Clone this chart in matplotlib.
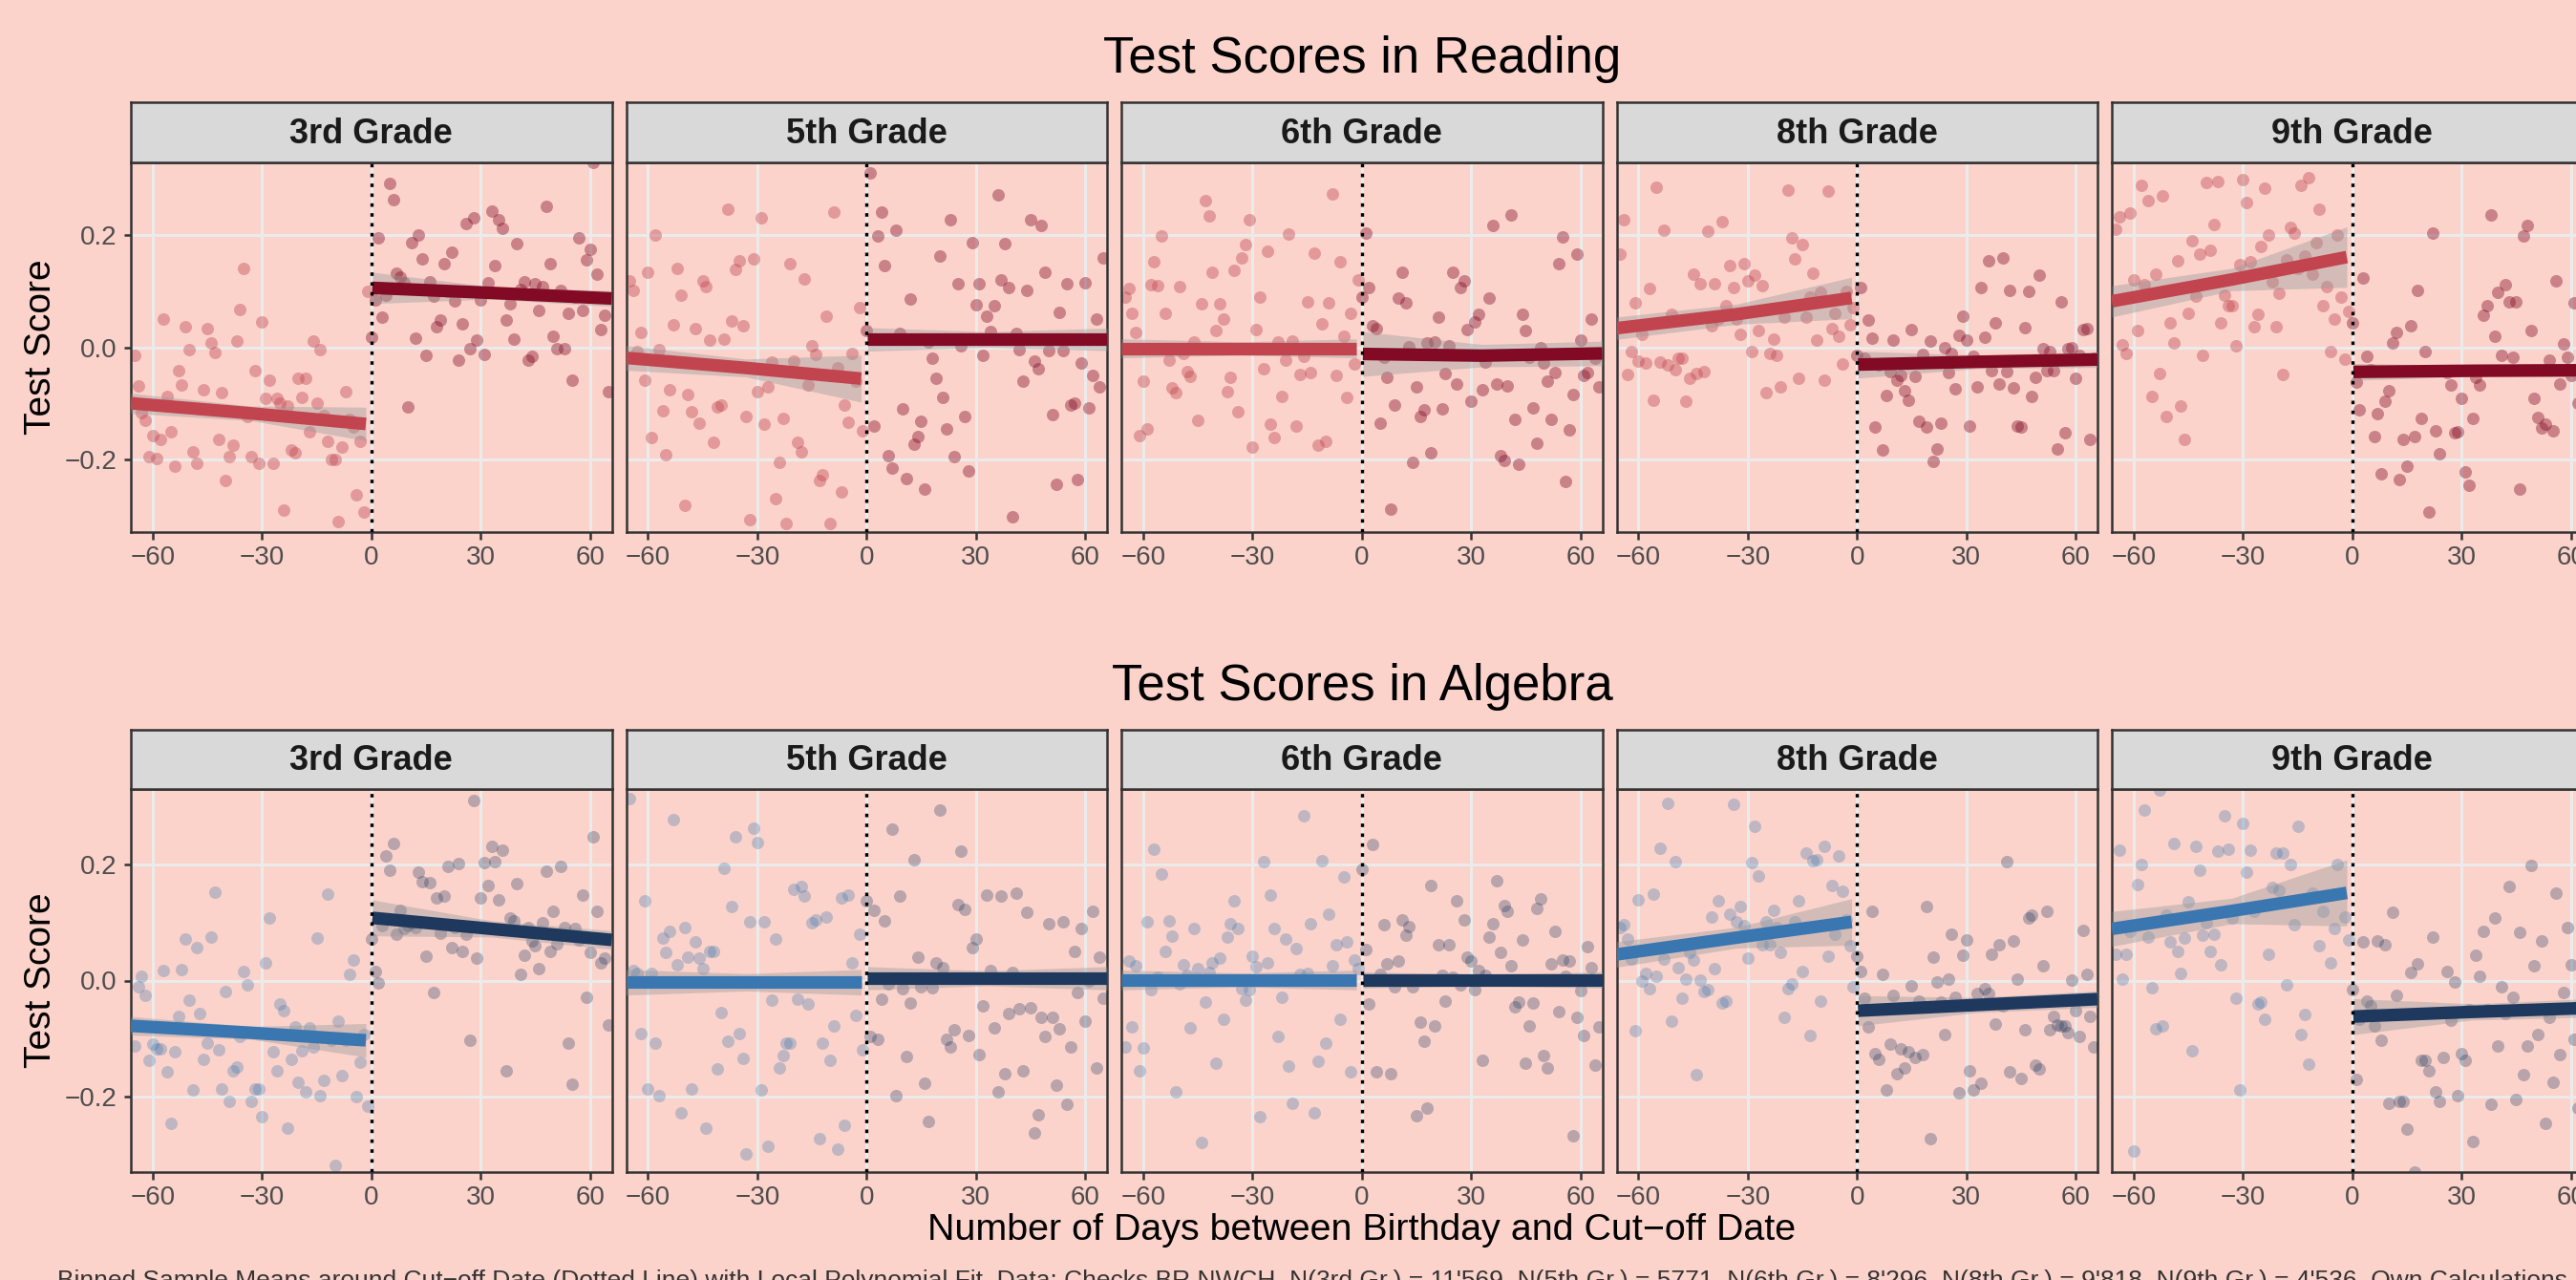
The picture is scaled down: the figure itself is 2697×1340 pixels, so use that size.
import numpy as np
import matplotlib.pyplot as plt

plt.rcParams['font.family'] = ['Liberation Sans', 'DejaVu Sans']

# ---- data: binned means per day (left of cut-off, right of cut-off) ----
grades = ["3rd Grade", "5th Grade", "6th Grade", "8th Grade", "9th Grade"]
subjects = ["Test Scores in Reading", "Test Scores in Algebra"]

read_g3_left = [-0.014, -0.069, -0.117, -0.131, -0.195, -0.157, -0.198, -0.165, 0.051, -0.088, -0.151, -0.212, -0.042,
                -0.067, 0.037, -0.005, -0.186, -0.208, -0.11, -0.076, 0.034, 0.007, -0.01, -0.164, -0.081, -0.238,
                -0.195, -0.175, 0.011, 0.068, 0.141, -0.124, -0.195, -0.041, -0.208, 0.045, -0.092, -0.058, -0.208,
                -0.091, -0.1, -0.29, -0.105, -0.184, -0.188, -0.055, -0.089, -0.055, -0.151, 0.011, -0.1, -0.004,
                -0.122, -0.168, -0.2, -0.2, -0.312, -0.178, -0.079, -0.128, -0.143, -0.263, -0.168, -0.294, 0.099]
read_g3_right = [0.018, 0.084, 0.196, 0.053, 0.093, 0.293, 0.264, 0.132, 0.126, 0.115, -0.106, 0.187, 0.017, 0.2,
                 0.158, -0.014, 0.117, 0.091, 0.036, 0.049, 0.149, 0.1, 0.17, 0.083, -0.023, 0.041, 0.221, -0.003,
                 0.231, 0.013, 0.084, -0.012, 0.115, 0.243, 0.145, 0.227, 0.212, 0.048, 0.078, 0.015, 0.185, 0.104,
                 0.116, -0.023, -0.016, 0.113, 0.065, 0.109, 0.251, 0.15, 0.02, -0.003, 0.102, -0.003, 0.06, -0.058,
                 0.09, 0.195, 0.066, 0.156, 0.174, 0.33, 0.131, 0.032, 0.057, -0.079]
read_g5_left = [0.118, 0.101, -0.008, 0.027, -0.058, 0.134, -0.162, 0.2, -0.004, -0.114, -0.192, -0.076, 0.04, 0.141,
                0.093, -0.282, -0.084, -0.115, 0.034, -0.136, 0.118, 0.108, 0.012, -0.169, -0.106, -0.103, 0.015,
                0.246, 0.047, 0.139, 0.155, 0.038, -0.124, -0.307, 0.157, -0.08, 0.231, -0.137, -0.071, -0.027, -0.27,
                -0.206, -0.127, -0.314, 0.149, -0.025, -0.169, -0.186, 0.122, -0.067, 0.002, -0.013, -0.238, -0.228,
                0.056, -0.315, 0.241, -0.037, -0.259, -0.104, -0.134, -0.011, -0.06, 0.07, -0.15]
read_g5_right = [0.03, 0.312, -0.14, 0.198, 0.242, 0.146, -0.193, -0.215, 0.209, 0.024, -0.11, -0.235, 0.086, -0.173,
                 -0.159, -0.133, -0.253, 0.01, -0.019, -0.056, 0.163, -0.09, -0.145, 0.227, -0.195, 0.113, 0.002,
                 -0.123, -0.221, 0.186, 0.076, 0.113, -0.014, 0.055, 0.028, 0.075, 0.272, 0.12, 0.185, 0.106, -0.302,
                 0.024, -0.004, -0.061, 0.102, 0.227, -0.024, -0.038, 0.218, 0.134, -0.006, -0.121, -0.244, 0.063,
                 -0.006, 0.113, -0.103, -0.099, -0.237, -0.028, 0.115, -0.108, -0.051, 0.05, -0.07, 0.16]
read_g6_left = [0.089, 0.105, 0.061, 0.026, -0.157, -0.06, -0.145, 0.112, 0.153, 0.11, 0.199, 0.06, -0.023, -0.073,
                -0.081, 0.108, -0.011, -0.044, -0.052, 0.009, -0.131, 0.077, 0.261, 0.235, 0.134, 0.03, 0.077, 0.05,
                -0.08, -0.054, 0.138, -0.115, 0.159, 0.183, 0.228, -0.179, 0.031, 0.089, -0.038, 0.171, -0.138,
                -0.162, 0.01, -0.088, -0.023, 0.202, 0.011, -0.14, -0.049, -0.016, 0.081, -0.045, 0.168, -0.175,
                0.041, -0.168, 0.08, 0.273, -0.05, 0.153, 0.02, -0.09, 0.06, -0.03, 0.12]
read_g6_right = [0.089, 0.204, 0.106, 0.038, 0.034, -0.136, -0.018, -0.054, -0.289, -0.103, 0.088, 0.134, 0.08, 0.001,
                 -0.206, -0.071, -0.123, -0.112, 0.008, -0.189, 0.01, 0.053, -0.11, -0.047, 0.002, 0.134, -0.066,
                 0.107, 0.118, 0.031, -0.096, 0.045, 0.058, -0.076, -0.027, 0.088, 0.218, -0.066, -0.193, -0.202,
                 -0.069, 0.237, -0.129, -0.209, 0.058, 0.03, -0.018, -0.108, -0.172, -0.001, -0.028, -0.06, -0.129,
                 -0.046, 0.149, 0.197, -0.24, -0.148, -0.085, 0.167, 0.013, -0.05, -0.046, 0.05, -0.02, -0.07]
read_g8_left = [0.167, 0.227, -0.049, -0.007, 0.08, -0.024, 0.023, -0.028, 0.105, -0.094, 0.286, -0.027, 0.209,
                -0.032, 0.058, -0.04, -0.019, -0.019, -0.097, -0.056, 0.131, -0.047, 0.113, -0.043, 0.207, 0.038,
                0.114, 0.05, 0.225, 0.074, 0.146, 0.107, 0.05, 0.023, 0.15, 0.119, -0.008, 0.129, 0.03, 0.11, -0.081,
                -0.011, 0.015, -0.015, -0.07, 0.054, 0.281, 0.195, 0.158, -0.056, 0.184, 0.054, 0.089, 0.132, 0.013,
                0.098, -0.058, 0.279, 0.033, 0.06, 0.02, -0.03, 0.1, 0.04, 0.07]
read_g8_right = [-0.014, 0.107, -0.019, 0.049, 0.016, -0.143, -0.032, -0.184, -0.086, -0.044, 0.012, -0.058, -0.05,
                 -0.078, -0.095, 0.032, -0.052, -0.133, -0.012, -0.142, 0.011, -0.203, -0.181, -0.135, -0.001, -0.045,
                 -0.011, -0.074, 0.021, 0.056, 0.013, -0.141, -0.017, -0.07, 0.107, 0.018, 0.154, -0.041, 0.044,
                 -0.066, 0.16, -0.044, 0.102, -0.072, -0.14, -0.142, 0.035, 0.099, -0.087, -0.053, 0.129, -0.003,
                 -0.041, -0.007, -0.042, -0.181, 0.081, -0.152, -0.002, 0.0, -0.056, -0.015, 0.031, 0.033, -0.165,
                 -0.02]
read_g9_left = [0.211, 0.233, 0.005, -0.011, 0.239, 0.121, 0.029, 0.289, 0.111, 0.261, -0.087, 0.131, -0.047, 0.27,
                -0.123, 0.044, 0.008, 0.155, -0.105, -0.165, 0.06, 0.191, 0.092, 0.166, -0.015, 0.294, 0.173, 0.22,
                0.296, 0.043, 0.093, 0.075, 0.075, 0.003, 0.147, 0.299, 0.258, 0.153, 0.037, 0.058, 0.18, 0.284,
                0.201, 0.117, 0.036, 0.097, -0.049, 0.156, 0.214, 0.203, 0.14, 0.289, 0.163, 0.303, 0.13, 0.187,
                0.246, 0.074, 0.109, -0.007, 0.05, 0.2, 0.09, -0.021, 0.064]
read_g9_right = [0.043, -0.062, -0.111, 0.123, -0.017, -0.04, -0.16, -0.119, -0.226, -0.096, -0.078, 0.007, 0.027,
                 -0.237, -0.165, -0.213, 0.038, -0.16, 0.102, -0.127, -0.007, -0.294, 0.204, -0.149, -0.191, -0.042,
                 -0.045, -0.068, -0.152, -0.151, -0.092, -0.222, -0.246, -0.127, -0.054, -0.067, 0.057, 0.075, 0.237,
                 0.02, 0.098, -0.015, 0.111, 0.081, -0.018, 0.081, -0.253, 0.198, 0.218, 0.03, -0.092, -0.126, -0.144,
                 -0.137, -0.023, -0.149, 0.119, -0.066, 0.006, -0.018, -0.05, 0.08, -0.1, 0.02, -0.06, 0.1]

alg_g3_left = [-0.112, -0.011, 0.008, -0.026, -0.137, -0.11, -0.118, -0.118, 0.017, -0.158, -0.246, -0.122, -0.061,
               0.019, 0.071, -0.033, -0.188, 0.056, -0.057, -0.136, -0.107, 0.075, 0.153, -0.12, -0.186, -0.019,
               -0.209, -0.155, -0.149, -0.097, 0.016, -0.007, -0.208, -0.186, -0.186, -0.234, 0.03, 0.107, -0.122,
               -0.155, -0.041, -0.052, -0.254, -0.136, -0.08, -0.175, -0.121, -0.192, -0.082, -0.115, 0.073, -0.199,
               -0.172, 0.149, -0.103, -0.319, -0.07, -0.163, -0.103, 0.011, 0.035, -0.2, -0.141, -0.093, -0.217]
alg_g3_right = [0.071, 0.016, -0.004, 0.095, 0.215, 0.19, 0.237, 0.08, 0.121, 0.09, 0.094, 0.099, 0.091, 0.187, 0.17,
                0.042, 0.168, -0.021, 0.143, 0.082, 0.146, 0.197, 0.057, 0.091, 0.202, 0.05, 0.08, -0.103, 0.31, 0.039,
                0.142, 0.203, 0.163, 0.231, 0.205, 0.139, 0.224, -0.156, 0.108, 0.103, 0.167, 0.01, 0.043, 0.091,
                0.068, 0.06, 0.02, 0.099, 0.189, 0.05, 0.12, 0.063, 0.196, 0.091, -0.107, -0.179, 0.09, 0.07, 0.147,
                -0.029, 0.049, 0.247, 0.12, 0.03, 0.038, -0.077]
alg_g5_left = [0.314, 0.017, 0.012, -0.091, 0.137, -0.187, 0.012, -0.108, -0.198, 0.073, 0.048, 0.084, 0.278, 0.027,
               -0.228, 0.091, 0.04, -0.186, 0.066, 0.039, 0.02, -0.254, 0.05, 0.05, -0.153, -0.055, 0.193, -0.104,
               0.127, 0.247, -0.092, -0.134, -0.299, 0.102, 0.262, 0.238, -0.189, 0.102, -0.286, -0.033, 0.072,
               -0.151, -0.13, -0.108, -0.108, 0.157, -0.032, 0.162, 0.146, -0.04, 0.099, 0.104, -0.273, -0.108, 0.109,
               -0.138, -0.078, -0.29, 0.143, -0.249, 0.148, 0.03, -0.06, 0.08, -0.12]
alg_g5_right = [0.138, -0.097, 0.121, -0.101, -0.032, 0.103, -0.005, 0.261, -0.199, 0.145, -0.014, -0.131, -0.038,
                0.209, 0.04, -0.011, -0.177, -0.242, -0.013, 0.031, 0.293, 0.023, -0.101, -0.115, -0.085, 0.131,
                0.223, 0.122, -0.095, 0.057, 0.072, -0.128, -0.043, 0.147, 0.017, -0.081, -0.191, 0.146, -0.161,
                -0.056, 0.014, 0.151, -0.049, -0.155, 0.117, -0.047, -0.262, -0.232, -0.064, -0.096, 0.098, -0.064,
                -0.181, -0.083, 0.101, -0.213, -0.114, 0.05, -0.02, 0.09, -0.07, 0.0, 0.12, -0.15, 0.04, -0.03]
alg_g6_left = [-0.114, 0.033, -0.08, 0.025, -0.156, -0.116, 0.102, -0.015, 0.226, 0.005, 0.184, 0.051, 0.103, 0.077,
               -0.192, -0.006, 0.027, 0.009, -0.081, 0.09, 0.021, -0.279, -0.037, 0.014, 0.03, -0.142, 0.038, -0.067,
               0.075, 0.098, 0.138, 0.09, -0.014, -0.033, -0.015, 0.042, 0.024, -0.235, 0.205, 0.031, 0.147, 0.089,
               -0.096, -0.028, 0.072, -0.148, -0.211, 0.055, 0.01, 0.284, 0.012, 0.098, -0.228, -0.139, 0.206, -0.107,
               0.114, 0.026, 0.061, -0.066, 0.178, 0.067, -0.157, 0.036, 0.02]
alg_g6_right = [0.191, 0.054, -0.041, 0.234, -0.157, 0.01, 0.097, 0.028, -0.161, -0.01, 0.033, 0.104, 0.079, 0.093,
                -0.01, -0.233, -0.071, -0.105, -0.219, 0.164, -0.079, 0.061, 0.009, -0.036, 0.061, 0.005, 0.137,
                -0.007, 0.104, 0.04, 0.034, -0.015, 0.017, -0.138, 0.009, 0.075, 0.098, 0.172, 0.048, 0.13, 0.12,
                0.025, -0.046, -0.037, 0.07, -0.143, -0.079, -0.039, 0.125, 0.14, -0.13, -0.15, 0.028, 0.085, -0.054,
                0.036, 0.007, 0.034, -0.268, -0.064, -0.017, -0.095, 0.058, 0.023, -0.145, -0.08]
alg_g8_left = [0.091, 0.097, 0.071, 0.037, -0.086, 0.139, 0.0, 0.013, -0.014, 0.149, 0.008, 0.228, 0.037, 0.306,
               -0.07, 0.205, 0.023, -0.03, 0.002, 0.048, 0.036, -0.162, 0.001, -0.019, -0.015, 0.109, 0.02, 0.137,
               -0.038, -0.036, 0.114, 0.304, 0.101, 0.127, 0.095, 0.038, 0.203, 0.266, 0.181, 0.061, 0.101, 0.062,
               0.121, 0.091, 0.049, -0.064, -0.014, -0.005, 0.102, 0.138, 0.016, 0.219, -0.095, 0.207, 0.209, -0.036,
               0.232, 0.042, 0.164, 0.08, 0.214, 0.154, 0.104, 0.06, -0.01]
alg_g8_right = [0.042, 0.016, -0.031, -0.08, 0.119, -0.126, -0.136, 0.011, -0.189, -0.11, -0.026, -0.16, -0.118,
                -0.151, -0.123, -0.009, -0.132, -0.036, -0.128, 0.127, -0.272, 0.041, -0.003, -0.037, -0.093, 0.003,
                0.08, -0.028, -0.194, 0.044, 0.07, -0.156, -0.189, -0.022, -0.177, -0.014, -0.022, 0.046, -0.075,
                0.061, -0.043, 0.205, -0.157, 0.069, 0.003, -0.169, -0.085, 0.108, 0.113, -0.145, -0.153, 0.026, 0.119,
                -0.085, -0.061, -0.077, -0.078, -0.079, -0.089, 0.001, -0.052, -0.097, 0.086, 0.011, -0.061, -0.114]
alg_g9_left = [0.045, 0.225, 0.002, 0.045, 0.084, -0.293, 0.166, 0.2, 0.293, 0.075, -0.013, -0.083, 0.328, -0.079,
               0.113, 0.066, 0.237, 0.051, 0.013, 0.074, 0.135, -0.121, 0.231, 0.19, 0.079, 0.1, 0.051, 0.08, 0.223,
               0.027, 0.284, 0.227, 0.108, -0.031, -0.189, 0.271, 0.186, 0.224, 0.12, -0.04, -0.037, -0.066, 0.045,
               0.161, 0.22, 0.156, 0.22, -0.007, 0.2, 0.096, 0.266, -0.093, -0.059, -0.144, 0.15, 0.34, 0.06, 0.12,
               0.36, 0.03, 0.09, 0.2, 0.35, 0.11, 0.07]
alg_g9_right = [-0.016, -0.171, -0.067, 0.067, -0.036, -0.044, -0.079, 0.068, -0.103, 0.062, -0.211, 0.118, -0.026,
                -0.208, -0.209, -0.256, 0.014, -0.33, 0.029, -0.138, -0.137, -0.155, 0.075, -0.191, -0.209, -0.133,
                0.015, -0.069, -0.003, -0.198, -0.126, -0.137, -0.051, -0.277, 0.044, 0.008, 0.084, -0.05, -0.213,
                0.108, -0.113, -0.011, -0.056, 0.162, -0.028, -0.205, 0.083, -0.162, -0.113, 0.198, 0.025, -0.093,
                0.068, -0.246, -0.063, -0.176, 0.151, -0.128, -0.02, 0.092, 0.027, -0.102, -0.22, 0.03, -0.09, 0.06]

# local polynomial fit: value and CI half-width at start / middle / end of each side
fit_x_left = [-66, -33, -1.5]
fit_x_right = [0.3, 33, 66]
read_fit_left = [[-0.100, -0.118, -0.137], [-0.019, -0.037, -0.056], [-0.002, -0.002, -0.002],
                 [0.034, 0.059, 0.088], [0.082, 0.121, 0.161]]
read_hw_left = [[0.018, 0.013, 0.030], [0.022, 0.016, 0.042], [0.017, 0.012, 0.017],
                [0.020, 0.018, 0.037], [0.028, 0.020, 0.054]]
read_fit_right = [[0.106, 0.097, 0.087], [0.014, 0.014, 0.014], [-0.012, -0.015, -0.011],
                  [-0.031, -0.026, -0.022], [-0.044, -0.042, -0.041]]
read_hw_right = [[0.028, 0.011, 0.014], [0.021, 0.014, 0.020], [0.040, 0.020, 0.022],
                 [0.024, 0.012, 0.014], [0.015, 0.010, 0.012]]
alg_fit_left = [[-0.078, -0.090, -0.103], [-0.003, -0.003, -0.003], [0.001, 0.001, 0.001],
                [0.045, 0.074, 0.101], [0.089, 0.120, 0.151]]
alg_hw_left = [[0.016, 0.011, 0.029], [0.022, 0.015, 0.022], [0.017, 0.012, 0.017],
               [0.022, 0.018, 0.040], [0.030, 0.022, 0.057]]
alg_fit_right = [[0.108, 0.089, 0.070], [0.004, 0.004, 0.004], [0.001, 0.001, 0.001],
                 [-0.052, -0.042, -0.032], [-0.062, -0.054, -0.047]]
alg_hw_right = [[0.031, 0.014, 0.016], [0.020, 0.013, 0.020], [0.014, 0.010, 0.014],
                [0.026, 0.013, 0.014], [0.031, 0.014, 0.016]]

caption = ("Binned Sample Means around Cut\u2212off Date (Dotted Line) with Local Polynomial Fit. Data: Checks BR NWCH, "
           "N(3rd Gr.) = 11'569, N(5th Gr.) = 5771, N(6th Gr.) = 8'296, N(8th Gr.) = 9'818, N(9th Gr.) = 4'536, "
           "Own Calculations.")

read_pts = [(read_g3_left, read_g3_right), (read_g5_left, read_g5_right), (read_g6_left, read_g6_right),
            (read_g8_left, read_g8_right), (read_g9_left, read_g9_right)]
alg_pts = [(alg_g3_left, alg_g3_right), (alg_g5_left, alg_g5_right), (alg_g6_left, alg_g6_right),
           (alg_g8_left, alg_g8_right), (alg_g9_left, alg_g9_right)]

BG = '#FBD3CB'
W, H = 2697, 1340
fig = plt.figure(figsize=(W / 100, H / 100), dpi=100, facecolor=BG)


def box(x0, y0, x1, y1):
    # pixel box (top-left origin) -> figure fraction rect
    return [x0 / W, 1 - y1 / H, (x1 - x0) / W, (y1 - y0) / H]


panel_x = [137, 655.5, 1174, 1692.5, 2211]
pw = 503.5
rows = [(107, 170, 557, 62), (764, 826, 1227, 719)]
styles = [
    dict(pts=read_pts, fl=read_fit_left, hl=read_hw_left, fr=read_fit_right, hr=read_hw_right,
         cl='#C1444E', cr='#820A24', alpha=0.4),
    dict(pts=alg_pts, fl=alg_fit_left, hl=alg_hw_left, fr=alg_fit_right, hr=alg_hw_right,
         cl='#3A76B0', cr='#1E385E', alpha=0.3),
]

for r, (st_top, p_top, p_bot, title_y) in enumerate(rows):
    s = styles[r]
    for g in range(5):
        x0 = panel_x[g]
        ax = fig.add_axes(box(x0, p_top, x0 + pw, p_bot))
        ax.set_facecolor(BG)
        left, right = s['pts'][g]
        xl = np.arange(-len(left), 0)
        xr = np.arange(len(right))
        ax.scatter(xl, left, s=88, color=s['cl'], alpha=s['alpha'], lw=0, zorder=2)
        ax.scatter(xr, right, s=88, color=s['cr'], alpha=s['alpha'], lw=0, zorder=2)
        for fx, fy, hw, c in [(fit_x_left, s['fl'][g], s['hl'][g], s['cl']),
                              (fit_x_right, s['fr'][g], s['hr'][g], s['cr'])]:
            fy = np.array(fy)
            hw = np.array(hw)
            ax.fill_between(fx, fy - hw, fy + hw, color='#999999', alpha=0.4, lw=0, zorder=3)
            ax.plot(fx, fy, color=c, lw=9.5, solid_capstyle='butt', zorder=4)
        ax.axvline(0, color='black', lw=2.4, ls=(0, (1.1, 2.0)), zorder=5)

        ax.set_xlim(-66, 66)
        ax.set_ylim(-0.33, 0.33)
        ax.set_xticks([-60, -30, 0, 30, 60])
        ax.set_xticklabels(['\u221260', '\u221230', '0', '30', '60'])
        ax.set_yticks([-0.2, 0.0, 0.2])
        ax.set_yticklabels(['\u22120.2', '0.0', '0.2'])
        ax.grid(color='#EBEBEB', lw=2.2)
        ax.set_axisbelow(True)
        ax.tick_params(labelsize=20, labelcolor='#4D4D4D', color='#333333', length=5.4, width=1.8, pad=5)
        if g > 0:
            ax.tick_params(axis='y', left=False, labelleft=False)
        for sp in ax.spines.values():
            sp.set_color('#333333')
            sp.set_linewidth(1.8)

        sax = fig.add_axes(box(x0, st_top, x0 + pw, p_top))
        sax.set_facecolor('#D9D9D9')
        sax.set_xticks([])
        sax.set_yticks([])
        for sp in sax.spines.values():
            sp.set_color('#333333')
            sp.set_linewidth(1.8)
        sax.text(0.5, 0.47, grades[g], transform=sax.transAxes, ha='center', va='center',
                 fontsize=26, fontweight='bold', color='#1A1A1A')

    fig.text(1426 / W, 1 - title_y / H, subjects[r], ha='center', va='center', fontsize=38, color='black')
    fig.text(43 / W, 1 - (p_top + p_bot) / 2 / H, 'Test Score', rotation=90, ha='center', va='center',
             fontsize=28, color='black')

fig.text(1426 / W, 1 - 1288 / H, 'Number of Days between Birthday and Cut\u2212off Date', ha='center',
         va='center', fontsize=28.4, color='black')
fig.text(60 / W, 1 - 1329 / H, caption, ha='left', va='top', fontsize=19, color='#333333')

fig.savefig('out.png', dpi=100, facecolor=BG)
